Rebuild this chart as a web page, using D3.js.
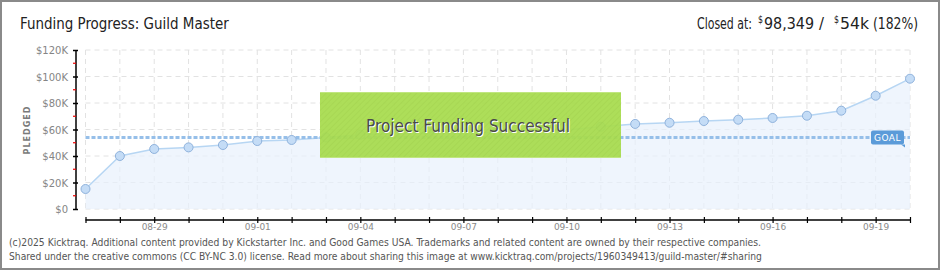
<!DOCTYPE html>
<html><head><meta charset="utf-8">
<script src="https://cdn.jsdelivr.net/npm/d3@7"></script>
<style>
html,body{margin:0;padding:0;background:#fff;}
svg{display:block;}
.cond{font-family:"Liberation Sans Narrow","DejaVu Sans Condensed","DejaVu Sans",sans-serif;font-stretch:condensed;}
</style></head>
<body>
<script>
// ---- data ----
const dates = ["2025-08-27","2025-08-28","2025-08-29","2025-08-30","2025-08-31","2025-09-01","2025-09-02","2025-09-03","2025-09-04","2025-09-05","2025-09-06","2025-09-07","2025-09-08","2025-09-09","2025-09-10","2025-09-11","2025-09-12","2025-09-13","2025-09-14","2025-09-15","2025-09-16","2025-09-17","2025-09-18","2025-09-19","2025-09-20"];
const pledged = [15100,40000,45300,46500,48300,51300,52100,54000,56000,56800,57400,57600,57800,58400,59600,62100,64200,65100,66400,67400,68700,70400,74200,85500,98349];
const goal = 54000;
const yTicks = [0,20000,40000,60000,80000,100000,120000];
const yMinorTicks = [10000,30000,50000,70000,90000,110000];
const xLabels = ["08-29","09-01","09-04","09-07","09-10","09-13","09-16","09-19"];
const title = "Funding Progress: Guild Master";
const headerParts = ["Closed at:","$","98,349","/","$","54k","(182%)"];
const footer1 = "(c)2025 Kicktraq. Additional content provided by Kickstarter Inc. and Good Games USA. Trademarks and related content are owned by their respective companies.";
const footer2 = "Shared under the creative commons (CC BY-NC 3.0) license. Read more about sharing this image at www.kicktraq.com/projects/1960349413/guild-master/#sharing";

const W=940,H=270;
const parse=d3.timeParse("%Y-%m-%d");
const data=dates.map((d,i)=>({date:parse(d),v:pledged[i]}));

const svg=d3.select("body").append("svg").attr("width",W).attr("height",H);
const defs=svg.append("defs");
const pat=defs.append("pattern").attr("id","hatch").attr("width",4).attr("height",4)
  .attr("patternUnits","userSpaceOnUse").attr("patternTransform","rotate(45)");
pat.append("rect").attr("width",4).attr("height",4).attr("fill","#a8dc4f");
pat.append("line").attr("x1",0).attr("y1",0).attr("x2",0).attr("y2",4).attr("stroke","#a0d347").attr("stroke-width",1.5);

svg.append("rect").attr("x",1).attr("y",1).attr("width",W-2).attr("height",H-2)
  .attr("fill","#fff").attr("stroke","#8a8a8a").attr("stroke-width",2);

// helper: place a text so its drawn width fits w, starting at x (or centred at x)
function fitText(parent,str,x,yb,size,w,color,anchor){
  const gg=parent.append("g");
  const t=gg.append("text").attr("class","cond").attr("font-size",size).attr("fill",color)
    .attr("text-anchor",anchor||"start").text(str);
  const nat=t.node().getComputedTextLength();
  const sx=w/nat;
  gg.attr("transform",`translate(${x},${yb}) scale(${sx},1)`);
  return t;
}

const x=d3.scaleTime().domain([data[0].date,data[data.length-1].date]).range([85.5,910]);
const y=d3.scaleLinear().domain([0,120000]).range([209,50]);

// grid
const g=svg.append("g");
g.selectAll("line.hg").data(yTicks).join("line").attr("class","hg")
  .attr("x1",x.range()[0]).attr("x2",x.range()[1]).attr("y1",d=>y(d)).attr("y2",d=>y(d))
  .attr("stroke","#e2e2e2").attr("stroke-dasharray","5,4");
g.selectAll("line.vg").data(data).join("line").attr("class","vg")
  .attr("x1",d=>x(d.date)).attr("x2",d=>x(d.date)).attr("y1",y(120000)).attr("y2",y(0))
  .attr("stroke","#e2e2e2").attr("stroke-dasharray","5,4");

// area + line
svg.append("path").datum(data)
  .attr("d",d3.area().x(d=>x(d.date)).y0(y(0)).y1(d=>y(d.v)))
  .attr("fill","#e8f1fc").attr("fill-opacity",0.7);
svg.append("path").datum(data)
  .attr("d",d3.line().x(d=>x(d.date)).y(d=>y(d.v)))
  .attr("fill","none").attr("stroke","#b7d6f3").attr("stroke-width",1.5);

// goal line
svg.append("line").attr("x1",x.range()[0]).attr("x2",x.range()[1]).attr("y1",y(goal)).attr("y2",y(goal))
  .attr("stroke","#96bfe9").attr("stroke-width",3).attr("stroke-dasharray","4,2");

// points
svg.selectAll("circle.pt").data(data).join("circle").attr("class","pt")
  .attr("cx",d=>x(d.date)).attr("cy",d=>y(d.v)).attr("r",4.5)
  .attr("fill","#c4dcf6").attr("stroke","#8fb2dc").attr("stroke-width",1);

// goal label
const gy=y(goal);
const gl=svg.append("g");
gl.append("rect").attr("x",871).attr("y",gy-7).attr("width",33).attr("height",14).attr("rx",2).attr("fill","#5b9bd9");
gl.append("path").attr("d",`M${901},${gy+7} L${905},${gy+7} L${905},${gy+10} Z`).attr("fill","#5b9bd9");
gl.append("text").attr("x",887.5).attr("y",gy+4).attr("text-anchor","middle")
  .attr("font-family","DejaVu Sans, sans-serif").attr("font-size",9).attr("fill","#fff").attr("letter-spacing",0.5).text("GOAL");

// success box
svg.append("rect").attr("x",320).attr("y",92).attr("width",301).attr("height",66)
  .attr("fill","url(#hatch)").attr("fill-opacity",0.94);
svg.append("line").attr("x1",320).attr("x2",621).attr("y1",92.5).attr("y2",92.5).attr("stroke","#c0e680");
svg.append("line").attr("x1",320).attr("x2",621).attr("y1",157.5).attr("y2",157.5).attr("stroke","#c0e680");
fitText(svg,"Project Funding Successful",469,133,18,204,"#fff","middle");
fitText(svg,"Project Funding Successful",468,132,18,204,"#4a4a4a","middle");

// y axis
const ya=svg.append("g").attr("transform","translate(76,0)")
  .call(d3.axisLeft(y).tickValues(yTicks).tickSize(3).tickFormat(d=>d===0?"$0":"$"+(d/1000)+"K"));
ya.select(".domain").attr("d",`M0,${y(120000)}V${y(0)}`).attr("stroke","#000").attr("stroke-width",1.5);
ya.selectAll(".tick line").attr("x1",2).attr("x2",-3).attr("stroke","#000").attr("stroke-width",1.5);
ya.selectAll(".tick text").attr("x",-8).attr("fill","#858585").attr("font-size",10)
  .attr("font-family","DejaVu Sans, sans-serif").attr("dy","0.35em");
ya.selectAll("line.minor").data(yMinorTicks).join("line").attr("class","minor")
  .attr("x1",-3).attr("x2",0).attr("y1",d=>y(d)).attr("y2",d=>y(d)).attr("stroke","#e00").attr("stroke-width",1.2);

svg.append("text").attr("transform","translate(30,130) rotate(-90)").attr("text-anchor","middle")
  .attr("font-family","DejaVu Sans, sans-serif").attr("font-size",8).attr("font-weight","bold")
  .attr("letter-spacing",1).attr("fill","#7a7a7a").text("PLEDGED");

// x axis
const fmt=d3.timeFormat("%m-%d");
const xa=svg.append("g").attr("transform","translate(0,220)")
  .call(d3.axisBottom(x).tickValues(data.map(d=>d.date)).tickSize(3)
    .tickFormat(d=>xLabels.includes(fmt(d))?fmt(d):""));
xa.select(".domain").attr("d",`M${x.range()[0]},0H${x.range()[1]}`).attr("stroke","#000").attr("stroke-width",1.5);
xa.selectAll(".tick line").attr("y1",-3).attr("y2",3).attr("stroke","#000").attr("stroke-width",1.2);
xa.selectAll(".tick text").attr("y",4).attr("fill","#8a8a8a").attr("font-size",9)
  .attr("font-family","DejaVu Sans, sans-serif");

// header
fitText(svg,title,20,29,16,209,"#222");
const hdrX=[697,758,764,819,834,840,873];
const hdrW=[55,5,50,5,5,29,45];
headerParts.forEach((p,i)=>{
  const small=p==="$";
  fitText(svg,p,hdrX[i],small?23:29,small?10:16,hdrW[i],"#222");
});

// footer
fitText(svg,footer1,9,246,11,753,"#555");
fitText(svg,footer2,9,260,11,753,"#555");
</script>
</body></html>
